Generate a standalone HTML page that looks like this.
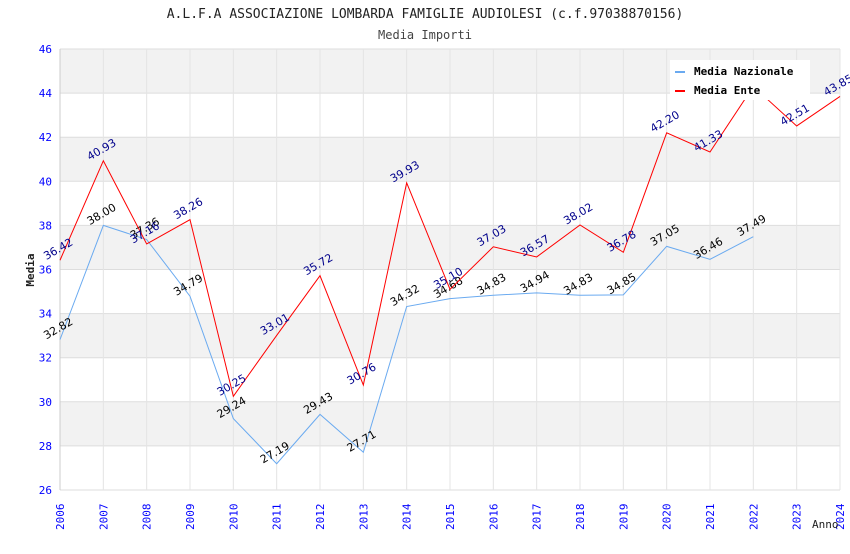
<!DOCTYPE html>
<html><head><meta charset="utf-8"><style>
body{margin:0;background:#fff;font-family:"DejaVu Sans Mono","Liberation Mono",monospace;}
svg text{font-family:"DejaVu Sans Mono","Liberation Mono",monospace;}
svg text.val{font-family:"DejaVu Sans","Liberation Sans",sans-serif;}
</style></head><body>
<svg id="chart" width="850" height="550" xmlns="http://www.w3.org/2000/svg">
<text x="425" y="18" text-anchor="middle" font-size="13" fill="#222">A.L.F.A ASSOCIAZIONE LOMBARDA FAMIGLIE AUDIOLESI (c.f.97038870156)</text>
<text x="425" y="39" text-anchor="middle" font-size="12" fill="#444">Media Importi</text>
<g id="bands"></g><g id="axes"></g><g id="series"></g>
<text transform="translate(34,270) rotate(-90)" text-anchor="middle" font-size="11" font-weight="bold" fill="#222">Media</text>
<text x="812" y="528" font-size="11" fill="#222">Anno</text>
<g>
<rect x="670" y="60" width="140" height="40" fill="#fff"/>
<rect x="675" y="71" width="10" height="2" fill="#6aaaf0"/>
<text x="694" y="75" font-size="11" font-weight="bold" fill="#000">Media Nazionale</text>
<rect x="675" y="90" width="10" height="2" fill="#f00"/>
<text x="694" y="94" font-size="11" font-weight="bold" fill="#000">Media Ente</text>
</g>
</svg>
<script>
const years=[2006,2007,2008,2009,2010,2011,2012,2013,2014,2015,2016,2017,2018,2019,2020,2021,2022,2023,2024];
const nazionale=[32.82,38.00,37.36,34.79,29.24,27.19,29.43,27.71,34.32,34.68,34.83,34.94,34.83,34.85,37.05,36.46,37.49];
const ente=[36.42,40.93,37.16,38.26,30.25,33.01,35.72,30.76,39.93,35.10,37.03,36.57,38.02,36.78,42.20,41.33,44.30,42.51,43.85];
const yTicks=[26,28,30,32,34,36,38,40,42,44,46];
const X0=60,X1=840,Y0=490,Y1=49,ymin=26,ymax=46;
const xs=i=>X0+(X1-X0)*i/(years.length-1);
const ys=v=>Y0-(v-ymin)/(ymax-ymin)*(Y0-Y1);
const NS="http://www.w3.org/2000/svg";
function mk(t,a,p){const e=document.createElementNS(NS,t);for(const k in a)e.setAttribute(k,a[k]);p.appendChild(e);return e;}
const bands=document.getElementById('bands'),axes=document.getElementById('axes'),ser=document.getElementById('series');
for(let i=0;i<yTicks.length-1;i++){
  const r=mk('rect',{x:X0,y:ys(yTicks[i+1]),width:X1-X0,height:ys(yTicks[i])-ys(yTicks[i+1]),fill:(i%2==1)?'#f2f2f2':'#fff'},bands);
  
  
}
yTicks.forEach(v=>{
  const l=mk('line',{x1:X0,x2:X1,y1:ys(v),y2:ys(v),stroke:'#ddd'},axes);
  
  
  const t=mk('text',{x:X0-8,y:ys(v)+4,'text-anchor':'end','font-size':'11',fill:'#00f'},axes);
  
  
  t.textContent=v;
});
years.forEach((y,i)=>{
  const l=mk('line',{x1:xs(i),x2:xs(i),y1:Y1,y2:Y0,stroke:'#e4e4e4'},axes);
  
  
  const t=mk('text',{transform:`translate(${xs(i)+4},${Y0+40}) rotate(-90)`,'font-size':'11',fill:'#00f'},axes);
  
  
  t.textContent=y;
});
const ax=mk('line',{x1:X0,x2:X0,y1:Y1,y2:Y0,stroke:'#ccc'},axes);


function draw(arr,color,lab,name){
  const p=mk('polyline',{points:arr.map((v,i)=>xs(i)+','+ys(v)).join(' '),fill:'none',stroke:color,'stroke-width':1},ser);
  
  
  arr.forEach((v,i)=>{
    const t=mk('text',{class:'val',transform:`translate(${xs(i)},${ys(v)-8}) rotate(-30)`,'text-anchor':'middle','font-size':'11',fill:lab},ser);
    
    
    t.textContent=v.toFixed(2);
  });
}
draw(nazionale,'#6aaaf0','#000','nazionale');
draw(ente,'#f00','#00008b','ente');
</script>
</body></html>
